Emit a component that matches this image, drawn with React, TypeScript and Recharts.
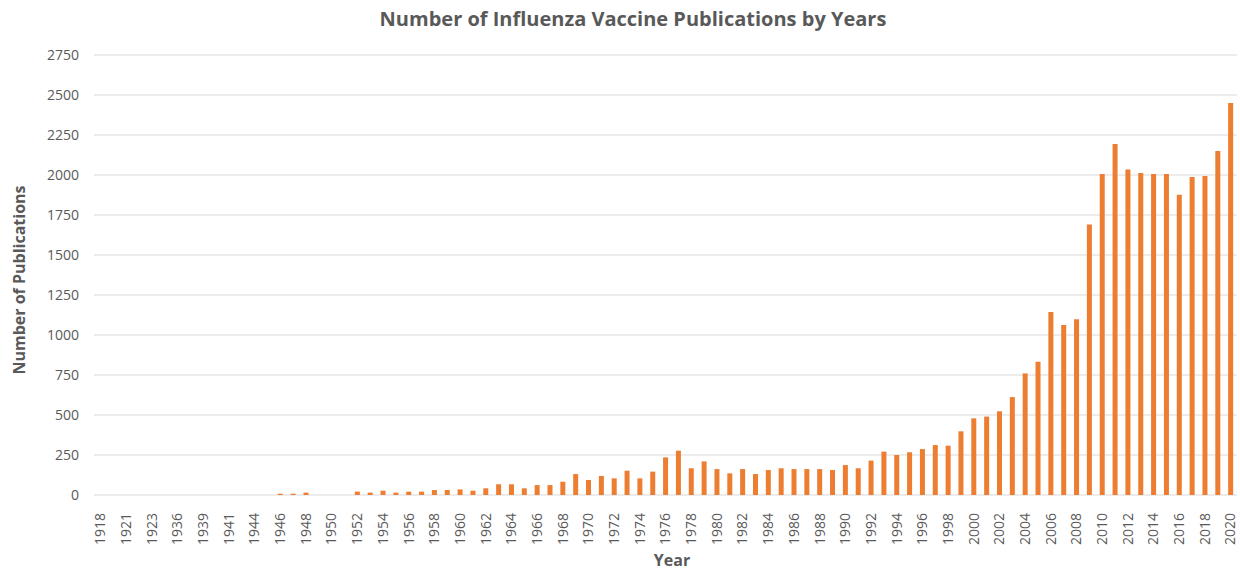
import { Bar, BarChart, CartesianGrid, Label, XAxis, YAxis } from "recharts";

const years = [
  "1918", "1920", "1921", "1922", "1923", "1935", "1936", "1937", "1939", "1940",
  "1941", "1942", "1944", "1945", "1946", "1947", "1948", "1949", "1950", "1951",
  "1952", "1953", "1954", "1955", "1956", "1957", "1958", "1959", "1960", "1961",
  "1962", "1963", "1964", "1965", "1966", "1967", "1968", "1969", "1970", "1971",
  "1972", "1973", "1974", "1975", "1976", "1977", "1978", "1979", "1980", "1981",
  "1982", "1983", "1984", "1985", "1986", "1987", "1988", "1989", "1990", "1991",
  "1992", "1993", "1994", "1995", "1996", "1997", "1998", "1999", "2000", "2001",
  "2002", "2003", "2004", "2005", "2006", "2007", "2008", "2009", "2010", "2011",
  "2012", "2013", "2014", "2015", "2016", "2017", "2018", "2019", "2020",
];

const publications = [
  0, 0, 0, 0, 0, 0, 0, 0, 0, 0,
  0, 0, 0, 0, 8, 8, 15, 0, 0, 0,
  21, 15, 27, 15, 21, 21, 31, 31, 35, 27,
  42, 67, 67, 42, 62, 62, 83, 131, 94, 119,
  104, 152, 104, 146, 235, 277, 167, 210, 162, 135,
  162, 131, 156, 167, 162, 162, 162, 156, 187, 167,
  215, 271, 250, 267, 287, 312, 308, 398, 479, 490,
  523, 612, 760, 833, 1144, 1062, 1098, 1690, 2006, 2194,
  2035, 2012, 2006, 2006, 1877, 1988, 1994, 2150, 2450,
];

const yTicks = [0, 250, 500, 750, 1000, 1250, 1500, 1750, 2000, 2250, 2500, 2750];

const data = years.map((year, i) => ({ year, count: publications[i] }));

const FONT = "'Open Sans', sans-serif";
const TEXT = "#595959";

function YearTick({ x, y, payload }: any) {
  return (
    <text
      x={x}
      y={y + 10}
      transform={`rotate(-90 ${x} ${y + 10})`}
      textAnchor="end"
      dy="0.35em"
      fill={TEXT}
      fontSize={14}
      fontFamily={FONT}
    >
      {payload.value}
    </text>
  );
}

export default function App() {
  return (
    <div style={{ position: "absolute", left: 0, top: 0, width: 1240, height: 572, background: "#fff" }}>
      <div
        style={{
          position: "absolute",
          left: 0,
          top: 5,
          width: 1266,
          textAlign: "center",
          fontFamily: FONT,
          fontWeight: 700,
          fontSize: 20,
          color: TEXT,
        }}
      >
        Number of Influenza Vaccine Publications by Years
      </div>
      <BarChart
        width={1240}
        height={572}
        data={data}
        margin={{ top: 55, right: 3, left: 0, bottom: 0 }}
        barCategoryGap={0}
      >
        <CartesianGrid vertical={false} stroke="#d9d9d9" />
        <XAxis
          dataKey="year"
          interval={1}
          tickLine={false}
          axisLine={false}
          height={77}
          tick={<YearTick />}
        >
          <Label
            content={() => (
              <text
                x={672}
                y={566}
                textAnchor="middle"
                fill={TEXT}
                fontSize={16}
                fontWeight={700}
                fontFamily={FONT}
              >
                Year
              </text>
            )}
          />
        </XAxis>
        <YAxis
          domain={[0, 2750]}
          ticks={yTicks}
          interval={0}
          width={94}
          tickLine={false}
          axisLine={false}
          tickMargin={9}
          tick={{ fill: TEXT, fontSize: 14, fontFamily: FONT }}
        >
          <Label
            content={() => (
              <text
                x={19}
                y={280}
                transform="rotate(-90 19 280)"
                textAnchor="middle"
                dy="0.35em"
                fill={TEXT}
                fontSize={16}
                fontWeight={700}
                fontFamily={FONT}
              >
                Number of Publications
              </text>
            )}
          />
        </YAxis>
        <Bar dataKey="count" fill="#ED7D31" barSize={5} isAnimationActive={false} />
      </BarChart>
    </div>
  );
}
